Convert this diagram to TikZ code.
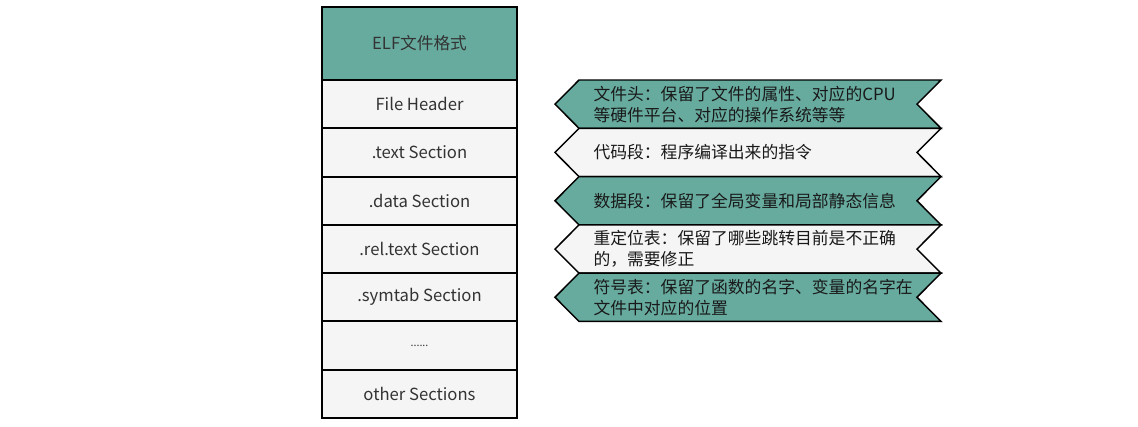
\documentclass[tikz,border=0pt]{standalone}
\usepackage{fontspec}
\setmainfont{Noto Sans CJK SC}
\definecolor{elfteal}{RGB}{103,171,159}
\definecolor{elfgray}{RGB}{245,245,245}
\definecolor{elftext}{RGB}{51,51,51}
\tikzset{every picture/.style={line width=0.75pt}}
\tikzset{
  secbox/.style={draw=black, line width=1.5pt, fill=elfgray, minimum width=146.25pt, minimum height=36.2pt, inner sep=0pt, outer sep=0pt, text=elftext, font=\fontsize{12.5}{14}\selectfont},
  headbox/.style={secbox, fill=elfteal, minimum height=54.75pt},
  descshape/.style={draw=black, line width=1.1pt, line join=miter},
  desctext/.style={anchor=west, align=left, inner sep=0pt, text=black!90, font=\fontsize{12.6}{15.8}\selectfont}
}

\begin{document}
\begin{tikzpicture}[x=0.75pt,y=0.75pt,yscale=-1,xscale=1]
\useasboundingbox (0,0) rectangle (1138,426);

%Shape: Rectangle [ELF header]
\node [headbox] (elf) at (419.5,43.5) {ELF文件格式};
%Shape: Rectangles [sections]
\node [secbox, anchor=north] (hdr) at (elf.south) {File Header};
\node [secbox, anchor=north] (text) at (hdr.south) {.text Section};
\node [secbox, anchor=north] (data) at (text.south) {.data Section};
\node [secbox, anchor=north] (rel) at (data.south) {.rel.text Section};
\node [secbox, anchor=north] (sym) at (rel.south) {.symtab Section};
\node [secbox, anchor=north] (dots) at (sym.south) {\fontsize{8}{9}\selectfont ......};
\node [secbox, anchor=north] (other) at (dots.south) {other Sections};

%Shape: Chevrons [descriptions]
\foreach \t/\col in {80/elfteal,128.3/elfgray,176.6/elfteal,224.9/elfgray,273.1/elfteal}{
  \pgfmathsetmacro{\b}{\t+48.3}
  \pgfmathsetmacro{\m}{\t+24.15}
  \draw [descshape, fill=\col] (555,\m) -- (579,\t) -- (941,\t) -- (917,\m) -- (941,\b) -- (579,\b) -- cycle ;
}

%Text nodes
\node [desctext] (dhdr) at (593,104.15) {文件头：保留了文件的属性、对应的CPU\\等硬件平台、对应的操作系统等等};
\node [desctext] (dtext) at (593,152.45) {代码段：程序编译出来的指令};
\node [desctext] (ddata) at (593,200.75) {数据段：保留了全局变量和局部静态信息};
\node [desctext] (drel) at (593,249.05) {重定位表：保留了哪些跳转目前是不正确\\的，需要修正};
\node [desctext] (dsym) at (593,297.25) {符号表：保留了函数的名字、变量的名字在\\文件中对应的位置};
\end{tikzpicture}
\end{document}
